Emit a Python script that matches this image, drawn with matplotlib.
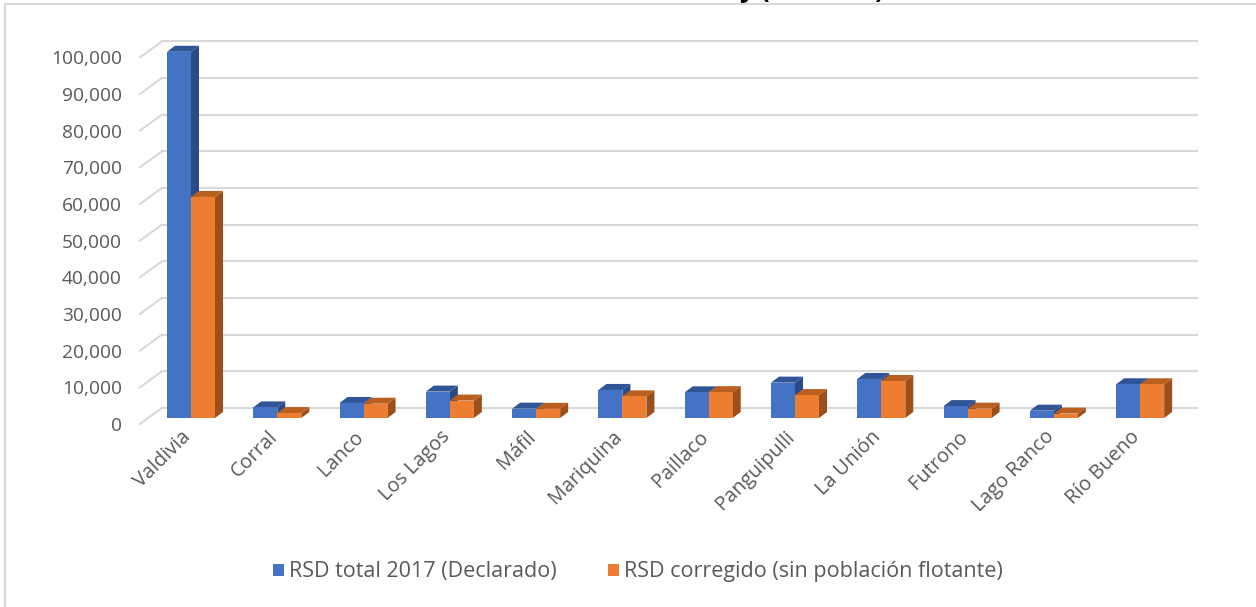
import matplotlib.pyplot as plt
import matplotlib.transforms as mtransforms
from matplotlib.patches import Polygon, Rectangle
from matplotlib.lines import Line2D

plt.rcParams['font.family'] = ['Open Sans', 'DejaVu Sans']

# Data
comunas = ['Valdivia', 'Corral', 'Lanco', 'Los Lagos', 'Máfil', 'Mariquina',
           'Paillaco', 'Panguipulli', 'La Unión', 'Futrono', 'Lago Ranco', 'Río Bueno']
rsd_total = [99900, 2900, 4100, 7200, 2550, 7650, 7000, 9650, 10650, 3250, 2000, 9200]
rsd_corregido = [60300, 1350, 3900, 4750, 2500, 5900, 7050, 6250, 10100, 2550, 1200, 9200]
series_names = ['RSD total 2017 (Declarado)', 'RSD corregido (sin población flotante)']
y_ticks = list(range(0, 100001, 10000))

blue = '#4472C4'
orange = '#ED7D31'
blue_top, blue_side = '#2F5597', '#2A4B86'
orange_top, orange_side = '#BA5F1F', '#9C4F1A'
grid_c = '#D9D9D9'
text_c = '#595959'

W, H, DPI = 1256, 607, 100
fig = plt.figure(figsize=(W / DPI, H / DPI), dpi=DPI)

# axes = plane of the bar front faces
ax_l, ax_r, ax_t, ax_b = 147.85, 1183.3, 51.4, 418.0
ax = fig.add_axes([ax_l / W, 1 - ax_b / H, (ax_r - ax_l) / W, (ax_b - ax_t) / H])
ax.set_xlim(-0.5, len(comunas) - 0.5)
ax.set_ylim(0, 100000)
ax.set_facecolor('none')
for s in ax.spines.values():
    s.set_visible(False)

# pixel -> data conversions
px_x = (len(comunas)) / (ax_r - ax_l)
px_y = 100000 / (ax_b - ax_t)

# depth offsets (pixels): back wall and bar depth
back_dx, back_dy = 14, 10
front_dx, front_dy = -8, -6
bar_dx, bar_dy = 8, 6

# gridlines: left side wall + back wall
x_left = -0.5
x_right = len(comunas) - 0.5
for v in y_ticks:
    ax.add_line(Line2D([x_left + front_dx * px_x, x_left + back_dx * px_x],
                       [v + front_dy * px_y, v + back_dy * px_y],
                       color=grid_c, lw=1.5, zorder=0, clip_on=False))
    ax.add_line(Line2D([x_left + back_dx * px_x, x_right + back_dx * px_x],
                       [v + back_dy * px_y, v + back_dy * px_y],
                       color=grid_c, lw=1.5, zorder=0, clip_on=False))

bw = 24 * px_x
ddx, ddy = bar_dx * px_x, bar_dy * px_y


def bar3d(x0, v, face, top, side, z):
    ax.add_patch(Polygon([(x0 + bw, 0), (x0 + bw + ddx, ddy), (x0 + bw + ddx, v + ddy), (x0 + bw, v)],
                         closed=True, fc=side, ec='none', zorder=z, clip_on=False))
    ax.add_patch(Polygon([(x0, v), (x0 + bw, v), (x0 + bw + ddx, v + ddy), (x0 + ddx, v + ddy)],
                         closed=True, fc=top, ec='none', zorder=z, clip_on=False))
    ax.add_patch(Rectangle((x0, 0), bw, v, fc=face, ec='none', zorder=z, clip_on=False))


for i in range(len(comunas)):
    bar3d(i - bw, rsd_total[i], blue, blue_top, blue_side, 2 + i * 2)
    bar3d(i, rsd_corregido[i], orange, orange_top, orange_side, 3 + i * 2)

# y tick labels on the front plane
ax.set_yticks(y_ticks)
ax.set_yticklabels([f'{v:,}' for v in y_ticks], fontsize=13.8, color=text_c)
ax.tick_params(axis='y', length=0, pad=26 * 72 / DPI)
for lab in ax.get_yticklabels():
    lab.set_transform(lab.get_transform() + mtransforms.ScaledTranslation(0, -6 / DPI, fig.dpi_scale_trans))

# x tick labels rotated
ax.set_xticks(range(len(comunas)))
ax.set_xticklabels(comunas, fontsize=14.3, color=text_c, rotation=45,
                   ha='right', va='center', rotation_mode='anchor')
ax.tick_params(axis='x', length=0, pad=0)
for lab in ax.get_xticklabels():
    lab.set_transform(lab.get_transform() + mtransforms.ScaledTranslation(-3 / DPI, -16 / DPI, fig.dpi_scale_trans))

# legend
handles = [Rectangle((0, 0), 1, 1, fc=blue, ec='none'), Rectangle((0, 0), 1, 1, fc=orange, ec='none')]
fig.legend(handles, series_names, loc='center', bbox_to_anchor=(638 / W, 1 - 572 / H), ncol=2,
           frameon=False, fontsize=15.5, labelcolor=text_c, handlelength=0.5, handleheight=0.5,
           handletextpad=0.25, columnspacing=2.4)

# clipped title at top edge (only its lower part shows, as in the source)
fig.text(812 / W, 1 + 10.5 / H, 'y (ton/año)', fontsize=19, fontweight='bold', color='black',
         ha='center', va='center')

# chart frame (top and left edges visible)
fig.add_artist(Line2D([5 / W, 1.0], [1 - 4 / H, 1 - 4 / H], color=grid_c, lw=1.5))
fig.add_artist(Line2D([5 / W, 5 / W], [0, 1 - 4 / H], color=grid_c, lw=1.5))

fig.savefig('out.png', dpi=DPI)
